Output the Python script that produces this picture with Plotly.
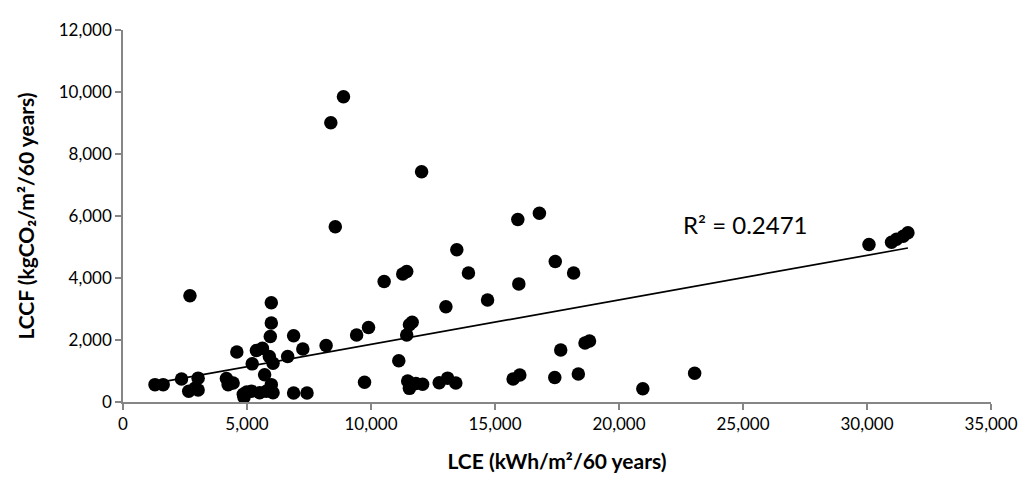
import plotly.graph_objects as go

# LCE (kWh/m²/60 years) and LCCF (kgCO2/m²/60 years)
lce = [8890, 8380, 12040, 8560, 15920, 16790, 13460, 17430, 18170, 13930,
       11280, 11440, 10530, 15960, 2700, 30080, 30990, 31190, 31460, 31650,
       5980, 5980, 5940, 6880, 9420, 4590, 5380, 5620, 5900, 6050,
       6640, 7250, 8190, 5210, 5710, 9900, 11440, 11550, 11660, 13020,
       14700, 11120, 17650, 18630, 18810,
       1290, 1620, 2360, 3030, 2900, 2650, 3030, 4170, 4440, 4240,
       4850, 4880, 5180, 5510, 5780, 5980, 6050, 6880, 7420, 9740,
       11480, 11550, 11810, 12080, 12750, 13090, 13420, 15730, 16000, 17410,
       18360, 20960, 23050, 5900, 4990]
lccf = [9850, 9010, 7430, 5650, 5890, 6090, 4910, 4530, 4160, 4160,
        4130, 4210, 3890, 3810, 3430, 5080, 5150, 5250, 5350, 5460,
        3200, 2550, 2110, 2140, 2160, 1610, 1660, 1730, 1470, 1250,
        1470, 1710, 1820, 1230, 880, 2400, 2160, 2490, 2570, 3070,
        3290, 1330, 1680, 1900, 1970,
        560, 560, 740, 770, 440, 350, 390, 760, 610, 560,
        250, 150, 350, 300, 350, 560, 300, 290, 290, 640,
        680, 440, 600, 570, 620, 770, 610, 740, 870, 790,
        900, 430, 930, 380, 320]

# Linear trendline
trend_slope = 0.1436
trend_intercept = 422
r2_label = "R² = 0.2471"

x_title = "LCE (kWh/m²/60 years)"
y_title = "LCCF (kgCO₂/m²/60 years)"

FONT = "Lato, 'Open Sans', sans-serif"

tx = [min(lce), max(lce)]
ty = [trend_intercept + trend_slope * v for v in tx]

fig = go.Figure()
fig.add_trace(go.Scatter(x=lce, y=lccf, mode="markers",
                         marker=dict(color="black", size=13.5, line=dict(width=0)),
                         showlegend=False))
fig.add_trace(go.Scatter(x=tx, y=ty, mode="lines",
                         line=dict(color="black", width=1.7),
                         showlegend=False))

fig.add_annotation(x=25100, y=5720, text=r2_label, showarrow=False,
                   font=dict(family=FONT, size=24, color="#000000"),
                   xanchor="center", yanchor="middle")

axis_common = dict(showgrid=False, zeroline=False, showline=True,
                   linecolor="#868686", linewidth=1.5,
                   ticks="outside", ticklen=6, tickcolor="#868686", tickwidth=1.5,
                   tickformat=",d", ticklabeloverflow="allow",
                   tickfont=dict(family=FONT, size=17, color="#000000"))

fig.update_layout(
    width=1021, height=473,
    margin=dict(l=115, r=36, t=11, b=78),
    paper_bgcolor="white", plot_bgcolor="white",
    xaxis=dict(range=[0, 35000], dtick=5000,
               title=dict(text=x_title, standoff=21,
                          font=dict(family=FONT, size=21, color="#000000", weight="bold")),
               **axis_common),
    yaxis=dict(range=[0, 12000], dtick=2000,
               title=dict(text=y_title, standoff=18,
                          font=dict(family=FONT, size=21, color="#000000", weight="bold")),
               **axis_common),
)

fig.write_html("out.html")
